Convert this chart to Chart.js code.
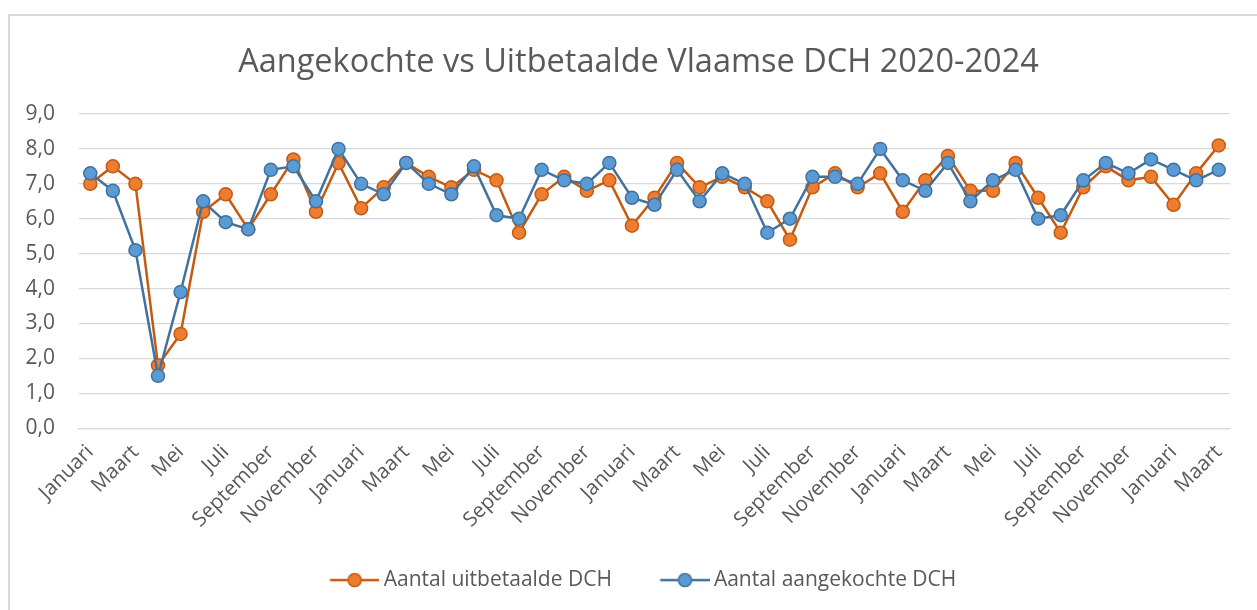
<!DOCTYPE html>
<html>
<head>
<meta charset="utf-8">
<script src="https://cdn.jsdelivr.net/npm/chart.js@4.4.1/dist/chart.umd.min.js"></script>
<style>
  html, body { margin: 0; padding: 0; background: #fff; }
  #wrap { position: relative; width: 1257px; height: 610px; overflow: hidden; }
  #frame { position: absolute; left: 8px; top: 14px; width: 1400px; height: 800px; border: 2px solid #d9d9d9; box-sizing: border-box; }
  #chart { position: absolute; left: 0; top: 0; }
</style>
</head>
<body>
<div id="wrap">
  <div id="frame"></div>
  <canvas id="chart" width="1257" height="610"></canvas>
</div>
<script>
// Jan 2020 t/m maart 2024
const maanden = [
  'Januari', 'Februari', 'Maart', 'April', 'Mei', 'Juni', 'Juli', 'Augustus', 'September', 'Oktober', 'November', 'December',
  'Januari', 'Februari', 'Maart', 'April', 'Mei', 'Juni', 'Juli', 'Augustus', 'September', 'Oktober', 'November', 'December',
  'Januari', 'Februari', 'Maart', 'April', 'Mei', 'Juni', 'Juli', 'Augustus', 'September', 'Oktober', 'November', 'December',
  'Januari', 'Februari', 'Maart', 'April', 'Mei', 'Juni', 'Juli', 'Augustus', 'September', 'Oktober', 'November', 'December',
  'Januari', 'Februari', 'Maart'
];

const uitbetaald = [
  7.0, 7.5, 7.0, 1.8, 2.7, 6.2, 6.7, 5.7, 6.7, 7.7,
  6.2, 7.6, 6.3, 6.9, 7.6, 7.2, 6.9, 7.4, 7.1, 5.6,
  6.7, 7.2, 6.8, 7.1, 5.8, 6.6, 7.6, 6.9, 7.2, 6.9,
  6.5, 5.4, 6.9, 7.3, 6.9, 7.3, 6.2, 7.1, 7.8, 6.8,
  6.8, 7.6, 6.6, 5.6, 6.9, 7.5, 7.1, 7.2, 6.4, 7.3, 8.1
];

const aangekocht = [
  7.3, 6.8, 5.1, 1.5, 3.9, 6.5, 5.9, 5.7, 7.4, 7.5,
  6.5, 8.0, 7.0, 6.7, 7.6, 7.0, 6.7, 7.5, 6.1, 6.0,
  7.4, 7.1, 7.0, 7.6, 6.6, 6.4, 7.4, 6.5, 7.3, 7.0,
  5.6, 6.0, 7.2, 7.2, 7.0, 8.0, 7.1, 6.8, 7.6, 6.5,
  7.1, 7.4, 6.0, 6.1, 7.1, 7.6, 7.3, 7.7, 7.4, 7.1, 7.4
];

const textColor = '#595959';
const fontFamily = '"Open Sans", sans-serif';

// legendesymbool: lijn met bolletje, zoals in Excel
const boxW = 52.5;    // pointStyleWidth
const leftGap = 9;    // lege ruimte links van het symbool
const overhang = 6.5; // lijn loopt iets voorbij de box
function legendMarker(fill, stroke) {
    const c = document.createElement('canvas');
    c.width = boxW + 2 * overhang;
    c.height = 18;
    const g = c.getContext('2d');
    const x0 = overhang + leftGap;
    const x1 = c.width;
    g.strokeStyle = stroke;
    g.lineWidth = 2.5;
    g.beginPath();
    g.moveTo(x0, 9);
    g.lineTo(x1, 9);
    g.stroke();
    g.beginPath();
    g.arc((x0 + x1) / 2, 9, 6.5, 0, Math.PI * 2);
    g.fillStyle = fill;
    g.fill();
    g.lineWidth = 1.5;
    g.stroke();
    return c;
}

const markers = [
    legendMarker('#ED7D31', '#C55A11'),
    legendMarker('#5B9BD5', '#41719C')
];

const ctx = document.getElementById('chart').getContext('2d');
new Chart(ctx, {
    type: 'line',
    data: {
        labels: maanden,
        datasets: [
            {
                label: 'Aantal uitbetaalde DCH',
                data: uitbetaald,
                borderColor: '#C55A11',
                borderWidth: 2.5,
                pointBackgroundColor: '#ED7D31',
                pointBorderColor: '#C55A11',
                pointBorderWidth: 1.5,
                pointRadius: 6.5,
                tension: 0,
                order: 1
            },
            {
                label: 'Aantal aangekochte DCH',
                data: aangekocht,
                borderColor: '#41719C',
                borderWidth: 2.5,
                pointBackgroundColor: '#5B9BD5',
                pointBorderColor: '#41719C',
                pointBorderWidth: 1.5,
                pointRadius: 6.5,
                tension: 0,
                order: 0
            }
        ]
    },
    options: {
        responsive: false,
        animation: false,
        layout: {
            padding: { left: 47, right: 27, top: 0, bottom: 9.4 }
        },
        plugins: {
            title: {
                display: true,
                text: 'Aangekochte vs Uitbetaalde Vlaamse DCH 2020-2024',
                color: textColor,
                font: { family: fontFamily, size: 32.5, weight: 'normal' },
                padding: { top: 43, bottom: 32 }
            },
            legend: {
                position: 'bottom',
                labels: {
                    color: textColor,
                    font: { family: fontFamily, size: 21 },
                    usePointStyle: true,
                    pointStyleWidth: boxW,
                    boxHeight: 18,
                    padding: 39,
                    generateLabels(chart) {
                        return chart.data.datasets.map((ds, i) => ({
                            text: ds.label,
                            pointStyle: markers[i],
                            fontColor: textColor,
                            fillStyle: 'transparent',
                            strokeStyle: 'transparent',
                            lineWidth: 0,
                            hidden: false,
                            datasetIndex: i
                        }));
                    }
                }
            },
            tooltip: { enabled: false }
        },
        scales: {
            x: {
                offset: true,
                grid: { display: false },
                border: { display: true, color: '#d9d9d9', width: 1.3 },
                ticks: {
                    color: textColor,
                    font: { family: fontFamily, size: 20.5 },
                    autoSkip: false,
                    minRotation: 45,
                    maxRotation: 45,
                    padding: 4,
                    callback: function(value, index) {
                        return index % 2 === 0 ? this.getLabelForValue(value) : '';
                    }
                },
                afterFit(scale) {
                    scale.height = 102.4;
                }
            },
            y: {
                min: 0,
                max: 9,
                grid: { color: '#d9d9d9', lineWidth: 1.3, drawTicks: false },
                border: { display: false },
                ticks: {
                    stepSize: 1,
                    color: textColor,
                    font: { family: fontFamily, size: 21 },
                    // mirror: labels niet afknippen, met negatieve padding buiten de as zetten
                    mirror: true,
                    crossAlign: 'far',
                    padding: -53.5,
                    callback: function(value) {
                        return value.toFixed(1).replace('.', ',');
                    }
                },
                afterFit(scale) {
                    scale.width = 32;
                }
            }
        }
    }
});
</script>
</body>
</html>
